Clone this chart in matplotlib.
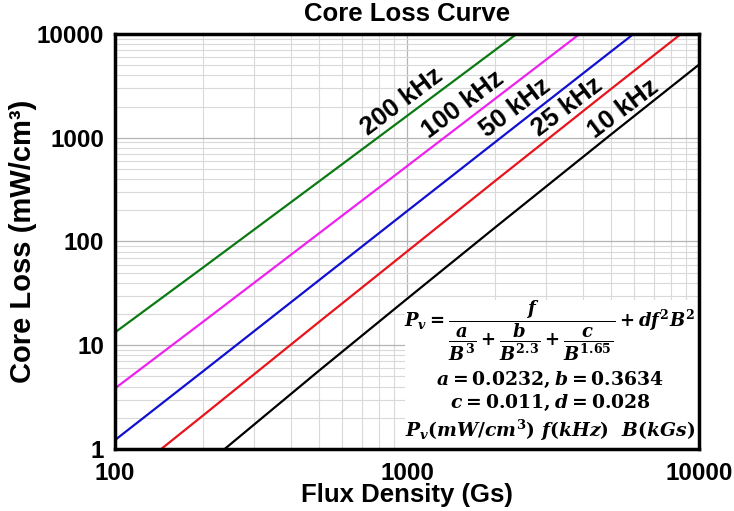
import matplotlib
matplotlib.use('Agg')
import matplotlib.pyplot as plt
from matplotlib.patches import Rectangle

# values (Gs -> mW/cm3)
flux = [100, 200, 500, 1000, 2000, 5000, 10000]
loss_10k = [0.13, 0.67, 5.7, 28, 136, 1077, 5065]
loss_25k = [0.44, 2.1, 16.8, 80, 382, 2955, 13700]
loss_50k = [1.22, 5.6, 42.4, 196, 903, 6785, 30900]
loss_100k = [3.84, 16.8, 120, 532, 2367, 17070, 80000]
loss_200k = [13.3, 56, 380, 1623, 6974, 48000, 200000]

series = [
    ('10 kHz', loss_10k, 'black'),
    ('25 kHz', loss_25k, '#e8141b'),
    ('50 kHz', loss_50k, '#1010d0'),
    ('100 kHz', loss_100k, '#ee22ee'),
    ('200 kHz', loss_200k, '#0b7a12'),
]
# label centres (data coords) along each line
label_pos = {'10 kHz': (5491, 1892), '25 kHz': (3530, 1977), '50 kHz': (2344, 1936),
             '100 kHz': (1555, 2069), '200 kHz': (961, 2212)}

plt.rcParams['font.family'] = ['Liberation Sans', 'DejaVu Sans']
plt.rcParams['mathtext.fontset'] = 'custom'
plt.rcParams['mathtext.rm'] = 'DejaVu Serif:bold'
plt.rcParams['mathtext.it'] = 'DejaVu Serif:italic:bold'
plt.rcParams['mathtext.bf'] = 'DejaVu Serif:bold'

fig = plt.figure(figsize=(7.34, 5.11), dpi=100)
ax = fig.add_axes([0.1567, 0.1213, 0.7956, 0.8122])

for name, vals, col in series:
    ax.plot(flux, vals, color=col, lw=1.6, zorder=3)
    x, y = label_pos[name]
    ax.text(x, y, name, rotation=37, rotation_mode='anchor', ha='center', va='center',
            fontsize=18.5, fontweight='bold', zorder=4)

ax.set_xscale('log')
ax.set_yscale('log')
ax.set_xlim(100, 10000)
ax.set_ylim(1, 10000)
ax.set_xticks([100, 1000, 10000], ['100', '1000', '10000'])
ax.set_yticks([1, 10, 100, 1000, 10000], ['1', '10', '100', '1000', '10000'])
ax.tick_params(which='both', length=0)
ax.tick_params(axis='y', pad=8, labelsize=17.5)
ax.tick_params(axis='x', pad=9, labelsize=17.5)
for lab in ax.get_xticklabels() + ax.get_yticklabels():
    lab.set_fontweight('bold')

ax.grid(which='major', color='#b4b4b4', lw=0.9)
ax.grid(which='minor', color='#d9d9d9', lw=0.8)
ax.set_axisbelow(True)
for sp in ax.spines.values():
    sp.set_linewidth(2.5)
    sp.set_zorder(5)

ax.add_patch(Rectangle((0.497, 0), 0.503, 0.359, transform=ax.transAxes,
                       facecolor='white', edgecolor='none', zorder=2))
fx = 0.745
ax.text(fx, 0.285, r'$P_v = \dfrac{f}{\dfrac{a}{B^3}+\dfrac{b}{B^{2.3}}+\dfrac{c}{B^{1.65}}} + df^2B^2$',
        transform=ax.transAxes, ha='center', va='center', fontsize=13, zorder=4)
ax.text(fx, 0.166, r'$a = 0.0232, b = 0.3634$', transform=ax.transAxes,
        ha='center', va='center', fontsize=13.5, zorder=4)
ax.text(fx, 0.110, r'$c = 0.011, d = 0.028$', transform=ax.transAxes,
        ha='center', va='center', fontsize=13.5, zorder=4)
ax.text(fx, 0.045, r'$P_v(mW/cm^3)\ f(kHz)\ \ B(kGs)$', transform=ax.transAxes,
        ha='center', va='center', fontsize=13.5, zorder=4)

ax.set_title('Core Loss Curve', fontsize=18.5, fontweight='bold', pad=9)
ax.set_xlabel('Flux Density (Gs)', fontsize=18.5, fontweight='bold', labelpad=-1)
ax.set_ylabel('Core Loss (mW/cm³)', fontsize=21, fontweight='bold', labelpad=0)

fig.savefig('out.png', dpi=100)
